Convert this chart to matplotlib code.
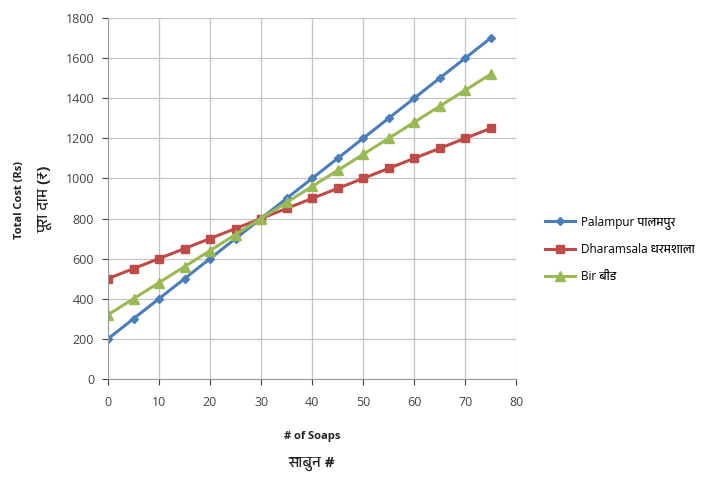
import matplotlib
matplotlib.use('Agg')
import matplotlib.pyplot as plt
from matplotlib import font_manager

# data
soaps = [0, 5, 10, 15, 20, 25, 30, 35, 40, 45, 50, 55, 60, 65, 70, 75]
palampur = [200, 300, 400, 500, 600, 700, 800, 900, 1000, 1100, 1200, 1300, 1400, 1500, 1600, 1700]
dharamsala = [500, 550, 600, 650, 700, 750, 800, 850, 900, 950, 1000, 1050, 1100, 1150, 1200, 1250]
bir = [320, 400, 480, 560, 640, 720, 800, 880, 960, 1040, 1120, 1200, 1280, 1360, 1440, 1520]

x_ticks = [0, 10, 20, 30, 40, 50, 60, 70, 80]
y_ticks = [0, 200, 400, 600, 800, 1000, 1200, 1400, 1600, 1800]

# pick fonts that actually exist, with a devanagari fallback if any
installed = {f.name for f in font_manager.fontManager.ttflist}
deva = [f.name for f in font_manager.fontManager.ttflist
        if 'devanagari' in f.name.lower() or 'lohit' in f.name.lower()
        or 'mukta' in f.name.lower() or 'mangal' in f.name.lower()]
base = 'Open Sans' if 'Open Sans' in installed else 'DejaVu Sans'
fams = [base] + sorted(set(deva)) + ['DejaVu Sans']
plt.rcParams['font.family'] = fams

fig = plt.figure(figsize=(7.2, 4.87), dpi=100)
ax = fig.add_axes([0.15, 0.222, 0.567, 0.741])

ax.plot(soaps, palampur, color='#4A7EBB', marker='D', markersize=4.5, lw=2.2,
        label='Palampur पालमपुर')
ax.plot(soaps, dharamsala, color='#BE4B48', marker='s', markersize=6, lw=2.2,
        label='Dharamsala धरमशाला')
ax.plot(soaps, bir, color='#98B954', marker='^', markersize=6.5, lw=2.2,
        label='Bir बीड')

ax.set_xlim(0, 80)
ax.set_ylim(0, 1800)
ax.set_xticks(x_ticks)
ax.set_yticks(y_ticks)
ax.grid(True, color='#c4c4c4', lw=0.9)
ax.set_axisbelow(True)
for s in ['top', 'right']:
    ax.spines[s].set_visible(False)
for s in ['left', 'bottom']:
    ax.spines[s].set_color('#9a9a9a')
ax.tick_params(colors='#444444', labelsize=9, length=4, direction='out')
ax.tick_params(axis='x', pad=8)
ax.tick_params(axis='y', pad=6)

fig.text(0.027, 0.59, 'Total Cost (Rs)', rotation=90, ha='center', va='center',
         fontsize=8, fontweight='bold', color='#222222')
fig.text(0.063, 0.59, 'पूरा दाम (₹)', rotation=90, ha='center', va='center',
         fontsize=11, fontweight='bold', color='#222222')
fig.text(0.433, 0.103, '# of Soaps', ha='center', va='center',
         fontsize=8, fontweight='bold', color='#222222')
fig.text(0.433, 0.048, 'साबुन #', ha='center', va='center',
         fontsize=11, fontweight='bold', color='#222222')

ax.legend(loc='center left', bbox_to_anchor=(1.045, 0.36), frameon=False,
          fontsize=8.5, handlelength=2.5, handletextpad=0.5, labelspacing=1.2)

fig.savefig('out.png', dpi=100)
